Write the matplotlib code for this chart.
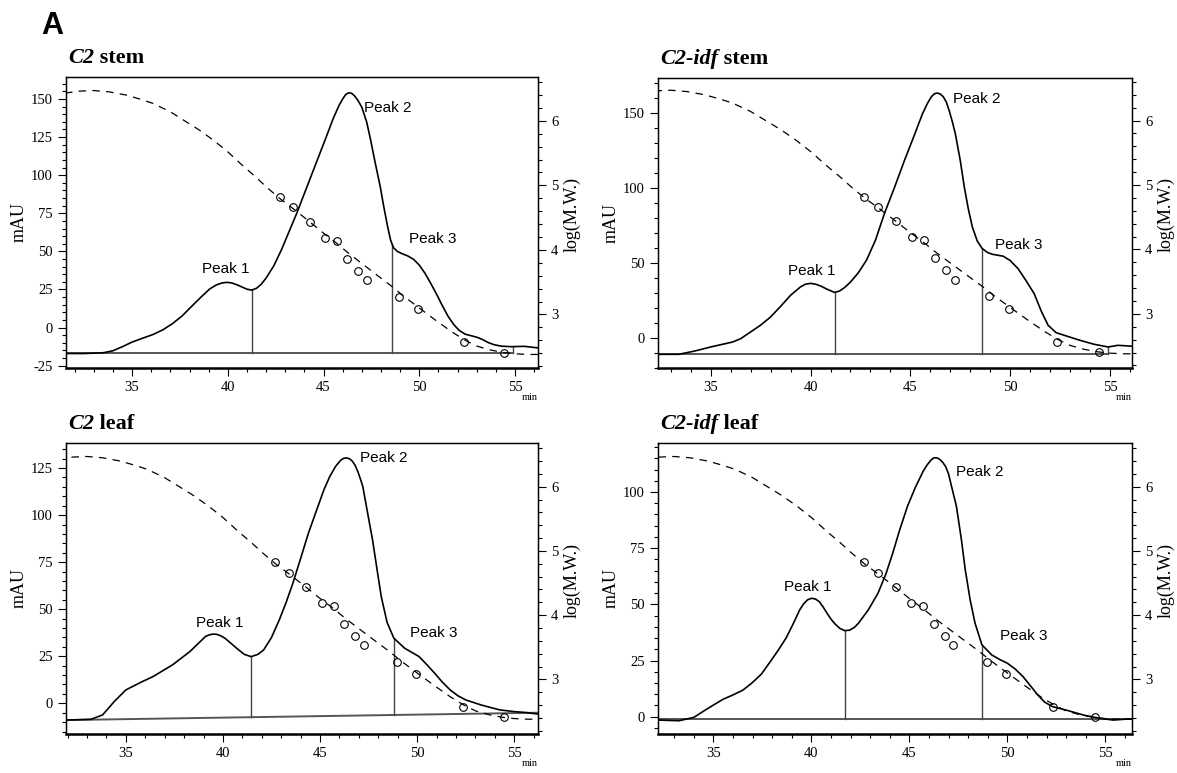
import numpy as np
import matplotlib.pyplot as plt
from matplotlib.ticker import MultipleLocator

W, H = 1177, 773

plt.rcParams['font.family'] = 'Liberation Serif'
plt.rcParams['axes.unicode_minus'] = False

# molecular weight standards (elution time in min, log M.W.)
std_time = [42.7, 43.4, 44.3, 45.1, 45.7, 46.25, 46.8, 47.25, 48.95, 49.95, 52.35, 54.45]
std_logmw = [4.82, 4.66, 4.44, 4.19, 4.14, 3.86, 3.68, 3.53, 3.27, 3.08, 2.57, 2.41]

# calibration curve (dashed)
cal_time = [31.5, 32.2, 33.0, 33.8, 34.7, 35.5, 36.1, 37.0, 37.7, 38.5, 39.25, 40.0, 40.8, 41.5,
            42.0, 42.7, 43.5, 44.3, 45.0, 45.7, 46.3, 47.0, 47.7, 48.5, 49.2, 50.0, 50.9, 51.7,
            52.4, 53.0, 53.7, 54.4, 55.0, 55.7, 56.4]
cal_logmw = [6.43, 6.46, 6.47, 6.45, 6.40, 6.33, 6.27, 6.14, 6.01, 5.86, 5.70, 5.52, 5.30, 5.12,
             4.98, 4.80, 4.62, 4.43, 4.26, 4.10, 3.95, 3.79, 3.63, 3.45, 3.28, 3.10, 2.90, 2.73,
             2.60, 2.51, 2.45, 2.41, 2.39, 2.38, 2.38]

# C2 stem
c2_stem_time = [31.55, 32.5, 33.5, 34.0, 34.5, 35.0, 35.5, 36.1, 36.6, 37.1, 37.6, 38.1, 38.6, 39.05,
                39.4, 39.7, 39.95, 40.2, 40.5, 40.8, 41.0, 41.25, 41.5, 41.75, 42.0, 42.4, 42.8, 43.2,
                43.6, 44.0, 44.4, 44.8, 45.2, 45.5, 45.8, 46.0, 46.15, 46.3, 46.45, 46.6, 46.8, 47.0,
                47.25, 47.46, 47.7, 47.96, 48.15, 48.35, 48.5, 48.65, 48.85, 49.1, 49.4, 49.7, 50.0, 50.3,
                50.6, 50.9, 51.2, 51.5, 51.8, 52.1, 52.4, 52.7, 53.0, 53.3, 53.6, 53.9, 54.3, 54.8,
                55.5, 56.2]
c2_stem_mau = [-17.0, -17.0, -16.5, -15.2, -12.5, -9.5, -7.2, -4.5, -1.5, 2.5, 7.5, 13.8, 20.0, 25.3,
               28.0, 29.3, 29.7, 29.3, 28.0, 26.3, 25.2, 24.6, 25.8, 28.5, 32.5, 40.5, 51.0, 63.0,
               75.0, 88.0, 101.0, 114.0, 127.0, 137.0, 145.5, 150.0, 152.8, 154.0, 153.8, 152.3, 149.0, 144.5,
               135.0, 123.0, 108.0, 92.5, 79.0, 66.0, 57.5, 52.5, 50.0, 48.5, 47.0, 44.8, 41.0, 35.6,
               29.0, 22.0, 14.5, 7.5, 2.0, -2.0, -4.3, -5.3, -6.3, -7.8, -9.8, -11.2, -12.2, -12.5,
               -12.3, -13.3]

# C2-idf stem
idf_stem_time = [32.36, 33.4, 34.2, 35.0, 35.5, 36.1, 36.5, 37.0, 37.5, 38.0, 38.5, 39.0, 39.5, 39.75,
                 40.0, 40.25, 40.5, 40.85, 41.2, 41.45, 41.7, 42.0, 42.4, 42.8, 43.25, 43.7, 44.2, 44.7,
                 45.2, 45.6, 45.85, 46.05, 46.2, 46.35, 46.5, 46.65, 46.8, 46.95, 47.1, 47.25, 47.5, 47.7,
                 47.9, 48.1, 48.35, 48.6, 48.85, 49.1, 49.4, 49.65, 50.0, 50.4, 50.8, 51.2, 51.55, 51.9,
                 52.3, 52.7, 53.5, 54.2, 54.9, 55.4, 56.1]
idf_stem_mau = [-10.9, -10.9, -8.7, -6.0, -4.5, -2.7, -0.5, 4.0, 8.5, 14.0, 21.0, 28.4, 34.0, 35.8,
                36.3, 35.8, 34.6, 32.3, 30.3, 31.2, 33.5, 37.2, 43.5, 51.7, 65.0, 82.8, 100.0, 118.0,
                135.0, 149.0, 156.0, 160.5, 162.5, 163.0, 162.3, 160.5, 157.0, 151.0, 144.0, 136.0, 118.0, 100.5,
                86.0, 74.0, 64.5, 59.5, 57.0, 55.7, 55.0, 54.4, 51.5, 46.0, 38.0, 29.5, 18.0, 8.4,
                3.5, 1.8, -1.6, -4.2, -6.0, -4.9, -5.5]

# C2 leaf
c2_leaf_time = [31.92, 33.2, 33.8, 34.4, 35.0, 35.8, 36.4, 37.4, 38.3, 38.7, 39.1, 39.3, 39.5, 39.7,
                39.9, 40.1, 40.4, 40.7, 41.1, 41.45, 41.8, 42.1, 42.5, 42.9, 43.25, 43.6, 44.0, 44.4,
                44.8, 45.2, 45.5, 45.8, 46.05, 46.2, 46.35, 46.5, 46.65, 46.8, 46.95, 47.1, 47.2, 47.45,
                47.7, 47.95, 48.15, 48.45, 48.8, 49.35, 50.1, 50.5, 50.9, 51.3, 51.7, 52.1, 52.5, 53.3,
                54.25, 55.0, 55.6, 56.22]
c2_leaf_mau = [-8.9, -8.5, -6.2, 0.9, 7.1, 11.3, 14.2, 20.4, 27.5, 31.5, 35.5, 36.4, 36.8, 36.6,
               35.8, 34.6, 32.0, 29.3, 26.0, 24.8, 26.0, 28.4, 35.0, 44.3, 53.5, 63.8, 77.0, 90.4,
               102.0, 113.5, 120.5, 125.9, 129.0, 130.1, 130.4, 130.0, 128.8, 126.5, 123.0, 118.5, 115.2, 101.0,
               86.9, 70.0, 56.7, 43.0, 34.6, 29.3, 24.8, 20.5, 16.0, 11.2, 7.1, 4.0, 1.8, -0.9,
               -3.5, -4.4, -4.9, -5.7]

# C2-idf leaf
idf_leaf_time = [32.17, 33.25, 34.0, 34.5, 35.0, 35.5, 36.0, 36.5, 36.95, 37.45, 37.9, 38.3, 38.7, 39.05,
                 39.4, 39.6, 39.8, 40.0, 40.2, 40.4, 40.6, 40.8, 41.0, 41.2, 41.45, 41.7, 41.95, 42.2,
                 42.4, 42.9, 43.4, 43.8, 44.15, 44.5, 44.9, 45.3, 45.7, 45.9, 46.1, 46.25, 46.4, 46.55,
                 46.7, 46.85, 47.0, 47.15, 47.4, 47.65, 47.85, 48.1, 48.35, 48.7, 49.2, 49.6, 50.0, 50.4,
                 50.8, 51.2, 51.55, 51.9, 52.3, 53.1, 53.9, 54.7, 55.4, 56.36]
idf_leaf_mau = [-1.5, -1.8, -0.3, 2.5, 5.2, 7.8, 9.7, 11.8, 14.9, 19.0, 24.5, 29.5, 34.9, 41.0,
                47.5, 50.2, 52.0, 52.7, 52.4, 51.2, 48.8, 46.0, 43.4, 41.3, 39.3, 38.3, 38.5, 39.8,
                41.6, 47.5, 55.0, 63.5, 72.8, 83.0, 93.6, 102.0, 109.2, 112.0, 114.2, 115.2, 115.2, 114.5,
                113.2, 111.3, 108.0, 102.5, 93.6, 79.0, 65.4, 52.0, 41.6, 32.0, 27.5, 25.5, 23.8, 21.2,
                17.8, 13.5, 9.7, 6.5, 4.5, 2.7, 0.7, -0.7, -1.5, -0.9]

# integration baselines and peak split lines
c2_stem_base_time = [31.55, 54.9]
c2_stem_base_mau = [-16.9, -16.9]
c2_stem_drops = [(41.25, -16.9, 24.6), (48.6, -16.9, 54.0), (54.9, -16.9, -12.4)]

idf_stem_base_time = [32.36, 54.9]
idf_stem_base_mau = [-10.9, -10.9]
idf_stem_drops = [(41.2, -10.9, 30.3), (48.6, -10.9, 59.5), (54.9, -10.9, -6.0)]

c2_leaf_base_time = [31.92, 56.22]
c2_leaf_base_mau = [-8.9, -5.0]
c2_leaf_drops = [(41.45, -7.4, 24.8), (48.8, -6.2, 34.6)]

idf_leaf_base_time = [32.17, 56.36]
idf_leaf_base_mau = [-1.2, -1.2]
idf_leaf_drops = [(41.72, -1.2, 38.3), (48.73, -1.2, 31.5)]

panels = [
    dict(box=(66, 77, 538, 368), title=('C2', ' stem'), xlim=(31.55, 56.2), ylim=(-26.5, 164.4),
         rlim=(2.17, 6.68), ymaj=25, ymin=5, t=c2_stem_time, y=c2_stem_mau,
         bt=c2_stem_base_time, by=c2_stem_base_mau, drops=c2_stem_drops,
         peaks=[(39.87, 38.3), (48.35, 143.9), (50.69, 57.9)]),
    dict(box=(658, 78, 1132, 368), title=('C2-idf', ' stem'), xlim=(32.36, 56.1), ylim=(-20, 173),
         rlim=(2.16, 6.66), ymaj=50, ymin=10, t=idf_stem_time, y=idf_stem_mau,
         bt=idf_stem_base_time, by=idf_stem_base_mau, drops=idf_stem_drops,
         peaks=[(40.04, 44.6), (48.31, 159.0), (50.42, 61.7)]),
    dict(box=(66, 443, 538, 734), title=('C2', ' leaf'), xlim=(31.92, 56.22), ylim=(-16.3, 138.3),
         rlim=(2.15, 6.68), ymaj=25, ymin=5, t=c2_leaf_time, y=c2_leaf_mau,
         bt=c2_leaf_base_time, by=c2_leaf_base_mau, drops=c2_leaf_drops,
         peaks=[(39.81, 42.9), (48.26, 130.3), (50.87, 37.2)]),
    dict(box=(658, 443, 1132, 734), title=('C2-idf', ' leaf'), xlim=(32.17, 56.36), ylim=(-7.7, 121.8),
         rlim=(2.15, 6.68), ymaj=25, ymin=5, t=idf_leaf_time, y=idf_leaf_mau,
         bt=idf_leaf_base_time, by=idf_leaf_base_mau, drops=idf_leaf_drops,
         peaks=[(39.83, 57.9), (48.59, 108.9), (50.83, 35.7)]),
]

fig = plt.figure(figsize=(W / 100, H / 100), dpi=100)
renderer = fig.canvas.get_renderer()

fig.text(41 / W, 1 - 34 / H, 'A', family='Liberation Sans', fontweight='bold', fontsize=22,
         ha='left', va='baseline')

for p in panels:
    l, t, r, b = p['box']
    ax = fig.add_axes([l / W, 1 - b / H, (r - l) / W, (b - t) / H])

    ax.plot(p['bt'], p['by'], color='#555555', lw=1.4)
    for xd, y0, y1 in p['drops']:
        ax.plot([xd, xd], [y0, y1], color='#444444', lw=1.0)
    ax.plot(p['t'], p['y'], color='black', lw=1.2, solid_joinstyle='round')

    ax.set_xlim(*p['xlim'])
    ax.set_ylim(*p['ylim'])
    ax.xaxis.set_major_locator(MultipleLocator(5))
    ax.xaxis.set_minor_locator(MultipleLocator(1))
    ax.yaxis.set_major_locator(MultipleLocator(p['ymaj']))
    ax.yaxis.set_minor_locator(MultipleLocator(p['ymin']))
    ax.tick_params(which='both', direction='out', labelsize=10.5, width=0.8)
    ax.tick_params(which='major', length=6)
    ax.tick_params(which='minor', length=3)
    ax.tick_params(axis='y', right=False)
    ax.tick_params(axis='x', top=False)
    ax.spines['bottom'].set_linewidth(1.8)
    for s in ['left', 'top', 'right']:
        ax.spines[s].set_linewidth(1.0)

    for (px, py), name in zip(p['peaks'], ['Peak 1', 'Peak 2', 'Peak 3']):
        ax.text(px, py, name, family='Liberation Sans', fontsize=11, ha='center', va='center')

    ax2 = ax.twinx()
    ax2.plot(cal_time, cal_logmw, color='black', lw=0.9, dashes=(6, 5))
    ax2.plot(std_time, std_logmw, 'o', mfc='none', mec='black', mew=0.8, ms=5.5)
    ax2.set_ylim(*p['rlim'])
    ax2.yaxis.set_major_locator(MultipleLocator(1))
    ax2.yaxis.set_minor_locator(MultipleLocator(0.2))
    ax2.tick_params(which='both', direction='out', labelsize=10.5, width=0.8)
    ax2.tick_params(which='major', length=6)
    ax2.tick_params(which='minor', length=3)
    ax2.set_xlim(*p['xlim'])

    # panel title: italic genotype + plain tissue
    ti = fig.text((l + 2) / W, 1 - (t - 14) / H, p['title'][0], fontsize=16, fontweight='bold',
                  fontstyle='italic', ha='left', va='baseline')
    bb = ti.get_window_extent(renderer)
    fig.text(bb.x1 / W, 1 - (t - 14) / H, p['title'][1], fontsize=16, fontweight='bold',
             ha='left', va='baseline')

    ymid = 1 - (t + b) / 2 / H
    fig.text((l - 47) / W, ymid, 'mAU', fontsize=13, rotation=90, ha='center', va='center')
    fig.text((r + 34) / W, ymid + 8 / H, 'log(M.W.)', fontsize=13, rotation=90, ha='center', va='center')
    fig.text((r - 8) / W, 1 - (b + 30) / H, 'min', fontsize=7.5, ha='center', va='center')

fig.savefig('out.png', dpi=100)
